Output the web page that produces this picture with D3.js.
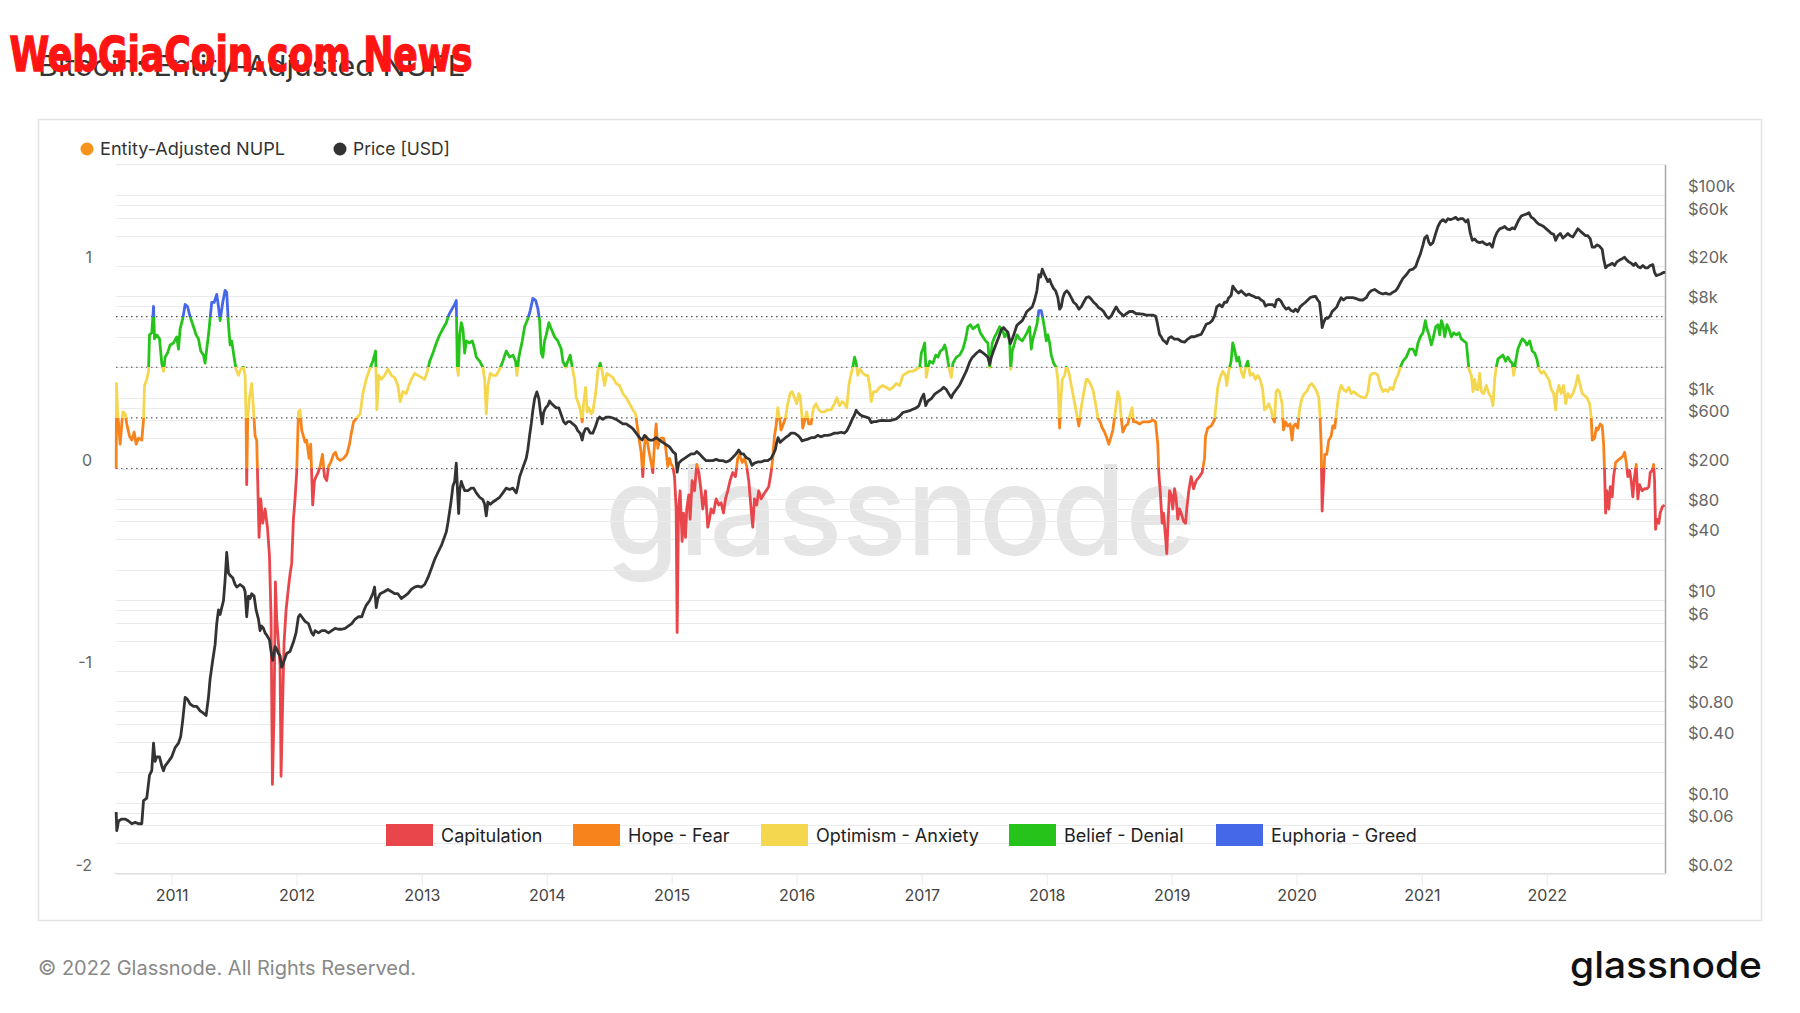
<!DOCTYPE html>
<html><head><meta charset="utf-8">
<script src="https://cdn.jsdelivr.net/npm/d3@7"></script>
<style>
html,body{margin:0;padding:0;background:#fff;}
svg{display:block;font-family:Inter,'Noto Sans',sans-serif;}
</style></head><body>
<svg id="chart" width="1800" height="1013"></svg>
<script>
// ---------- DATA ----------
const nuplYears = [2010.552,2010.555,2010.563,2010.584,2010.605,2010.624,2010.637,2010.659,2010.677,2010.696,2010.712,2010.731,2010.757,2010.771,2010.779,2010.797,2010.811,2010.819,2010.837,2010.851,2010.859,2010.877,2010.899,2010.917,2010.931,2010.944,2010.963,2010.984,2011.011,2011.037,2011.051,2011.064,2011.085,2011.104,2011.123,2011.144,2011.171,2011.192,2011.211,2011.229,2011.251,2011.264,2011.277,2011.291,2011.304,2011.317,2011.336,2011.357,2011.371,2011.384,2011.405,2011.424,2011.437,2011.451,2011.464,2011.477,2011.496,2011.512,2011.531,2011.549,2011.571,2011.584,2011.592,2011.597,2011.605,2011.619,2011.637,2011.651,2011.664,2011.677,2011.685,2011.696,2011.709,2011.725,2011.744,2011.763,2011.779,2011.792,2011.803,2011.816,2011.827,2011.837,2011.851,2011.864,2011.872,2011.885,2011.896,2011.912,2011.931,2011.944,2011.957,2011.971,2011.984,2011.997,2012.011,2012.024,2012.037,2012.051,2012.064,2012.077,2012.096,2012.109,2012.125,2012.139,2012.152,2012.168,2012.184,2012.203,2012.219,2012.237,2012.251,2012.269,2012.291,2012.307,2012.323,2012.344,2012.371,2012.397,2012.419,2012.429,2012.451,2012.477,2012.504,2012.525,
2012.552,2012.579,2012.605,2012.627,2012.637,2012.653,2012.672,2012.699,2012.725,2012.752,2012.779,2012.805,2012.824,2012.845,2012.872,2012.893,2012.912,2012.939,2012.965,2012.992,2013.019,2013.045,2013.059,2013.085,2013.112,2013.139,2013.165,2013.192,2013.213,2013.240,2013.259,2013.272,2013.280,2013.288,2013.299,2013.312,2013.325,2013.339,2013.352,2013.379,2013.400,2013.419,2013.432,2013.459,2013.485,2013.499,2013.512,2013.525,2013.544,2013.565,2013.592,2013.619,2013.645,2013.672,2013.699,2013.725,2013.747,2013.757,2013.773,2013.800,2013.819,2013.845,2013.864,2013.885,2013.907,2013.925,2013.939,2013.952,2013.965,2013.979,2013.992,2014.013,2014.032,2014.059,2014.085,2014.112,2014.125,2014.147,2014.165,2014.184,2014.200,2014.219,2014.232,2014.251,2014.264,2014.280,2014.291,2014.307,2014.320,2014.333,2014.352,2014.365,2014.387,2014.405,2014.424,2014.440,2014.459,2014.477,2014.499,2014.525,2014.552,2014.579,2014.605,
2014.632,2014.659,2014.685,2014.707,2014.725,2014.739,2014.752,2014.765,2014.779,2014.792,2014.805,2014.819,2014.832,2014.845,2014.859,2014.872,2014.885,2014.899,2014.912,2014.931,2014.947,2014.965,2014.979,2014.992,2015.005,2015.019,2015.032,2015.040,2015.051,2015.064,2015.080,2015.091,2015.107,2015.117,2015.133,2015.144,2015.160,2015.179,2015.197,2015.213,2015.232,2015.245,2015.267,2015.285,2015.299,2015.312,2015.331,2015.352,2015.373,2015.392,2015.411,2015.427,2015.445,2015.464,2015.485,2015.507,2015.525,2015.539,2015.560,2015.579,2015.597,2015.613,2015.632,2015.645,2015.659,2015.677,2015.693,2015.712,2015.731,2015.752,2015.773,2015.792,2015.805,2015.819,2015.832,2015.845,2015.859,2015.872,2015.885,2015.907,2015.925,2015.944,2015.960,2015.979,2015.997,2016.013,2016.024,2016.040,2016.045,2016.059,2016.077,2016.093,2016.112,2016.131,2016.152,2016.173,2016.192,2016.219,2016.245,2016.272,2016.299,2016.317,2016.339,2016.360,2016.379,2016.397,2016.413,2016.432,2016.445,2016.459,2016.472,2016.485,2016.504,2016.525,2016.547,2016.565,2016.579,2016.592,2016.611,2016.632,2016.659,2016.685,
2016.712,2016.739,2016.765,2016.792,2016.819,2016.845,2016.872,2016.899,2016.925,2016.952,2016.979,2016.992,2017.005,2017.019,2017.032,2017.045,2017.059,2017.085,2017.107,2017.125,2017.144,2017.165,2017.179,2017.192,2017.213,2017.232,2017.245,2017.272,2017.299,2017.325,2017.347,2017.365,2017.384,2017.405,2017.427,2017.445,2017.464,2017.485,2017.507,2017.525,2017.539,2017.560,2017.579,2017.597,2017.619,2017.640,2017.659,2017.677,2017.699,2017.707,2017.720,2017.739,2017.757,2017.779,2017.800,2017.819,2017.837,2017.859,2017.872,2017.885,2017.899,2017.917,2017.933,2017.952,2017.965,2017.979,2017.992,2018.005,2018.019,2018.032,2018.051,2018.072,2018.085,2018.099,2018.107,2018.120,2018.139,2018.152,2018.165,2018.179,2018.192,2018.205,2018.232,2018.253,2018.272,2018.291,2018.312,2018.325,2018.344,2018.365,2018.387,2018.405,2018.424,2018.440,2018.459,2018.477,2018.493,2018.512,2018.525,2018.547,2018.565,2018.579,2018.592,2018.605,2018.627,2018.645,2018.664,2018.680,2018.691,2018.712,2018.739,2018.765,
2018.792,2018.819,2018.845,2018.867,2018.885,2018.893,2018.904,2018.920,2018.931,2018.947,2018.957,2018.968,2018.979,2018.992,2019.005,2019.019,2019.032,2019.045,2019.059,2019.072,2019.091,2019.107,2019.117,2019.133,2019.152,2019.171,2019.192,2019.219,2019.240,2019.259,2019.267,2019.285,2019.312,2019.339,2019.352,2019.365,2019.384,2019.405,2019.427,2019.437,2019.453,2019.472,2019.485,2019.499,2019.517,2019.533,2019.552,2019.571,2019.587,2019.605,2019.624,2019.645,2019.667,2019.685,2019.704,2019.725,2019.739,2019.757,2019.773,2019.792,2019.805,2019.819,2019.832,2019.845,2019.859,2019.880,2019.891,2019.907,2019.925,2019.944,2019.960,2019.971,2019.987,2020.005,2020.019,2020.040,2020.059,2020.077,2020.099,2020.117,2020.139,2020.157,2020.173,2020.184,2020.192,2020.200,2020.211,2020.221,2020.237,2020.253,2020.272,2020.285,2020.301,2020.317,2020.333,2020.352,2020.371,2020.392,2020.413,2020.432,2020.451,2020.472,2020.493,2020.520,2020.547,2020.565,2020.584,2020.605,2020.627,2020.645,2020.664,2020.685,2020.707,2020.725,2020.744,2020.765,2020.787,2020.805,2020.824,2020.845,
2020.872,2020.899,2020.925,2020.947,2020.965,2020.984,2021.005,2021.024,2021.037,2021.053,2021.072,2021.085,2021.107,2021.125,2021.139,2021.152,2021.165,2021.179,2021.197,2021.213,2021.232,2021.251,2021.272,2021.293,2021.312,2021.331,2021.352,2021.373,2021.392,2021.405,2021.419,2021.432,2021.445,2021.459,2021.472,2021.491,2021.512,2021.533,2021.552,2021.565,2021.579,2021.592,2021.605,2021.624,2021.645,2021.667,2021.685,2021.704,2021.720,2021.731,2021.747,2021.765,2021.784,2021.800,2021.819,2021.837,2021.859,2021.880,2021.899,2021.917,2021.933,2021.952,2021.971,2021.992,2022.013,2022.032,2022.051,2022.067,2022.077,2022.093,2022.112,2022.131,2022.147,2022.165,2022.184,2022.205,2022.227,2022.245,2022.264,2022.280,2022.299,2022.317,2022.339,2022.352,2022.360,2022.379,2022.392,2022.405,2022.424,2022.440,2022.451,2022.459,2022.467,2022.477,2022.493,2022.504,2022.520,2022.531,2022.547,2022.565,2022.584,2022.605,2022.619,2022.632,2022.645,2022.659,2022.672,2022.685,2022.699,2022.712,2022.725,2022.739,2022.760,2022.779,2022.797,2022.813,2022.824,2022.840,2022.851,2022.859,2022.867,2022.877,2022.893,2022.904,2022.920,2022.939];

const nuplValues = [0.00,0.42,0.28,0.12,0.28,0.27,0.22,0.16,0.14,0.18,0.12,0.15,0.14,0.24,0.41,0.44,0.48,0.66,0.67,0.80,0.64,0.66,0.64,0.52,0.48,0.55,0.57,0.61,0.62,0.65,0.59,0.69,0.74,0.81,0.80,0.75,0.70,0.66,0.64,0.58,0.56,0.52,0.59,0.66,0.74,0.82,0.82,0.86,0.80,0.73,0.82,0.88,0.87,0.71,0.61,0.63,0.55,0.49,0.46,0.49,0.50,0.46,0.25,-0.08,0.25,0.35,0.42,0.30,0.16,0.14,-0.06,-0.34,-0.15,-0.27,-0.20,-0.29,-0.43,-0.74,-1.56,-1.20,-0.56,-0.74,-0.86,-0.97,-1.52,-1.15,-0.86,-0.70,-0.59,-0.52,-0.47,-0.25,-0.15,-0.02,0.28,0.29,0.19,0.16,0.13,0.14,0.05,0.12,-0.18,-0.06,-0.04,-0.02,0.01,0.07,-0.04,-0.06,0.01,0.03,0.07,0.08,0.05,0.04,0.05,0.07,0.12,0.16,0.23,0.25,0.27,0.37,
0.44,0.49,0.53,0.58,0.29,0.46,0.44,0.46,0.49,0.46,0.45,0.41,0.33,0.38,0.37,0.41,0.44,0.47,0.46,0.45,0.44,0.49,0.53,0.57,0.62,0.66,0.69,0.72,0.76,0.79,0.81,0.83,0.50,0.46,0.66,0.72,0.69,0.57,0.63,0.62,0.63,0.59,0.55,0.53,0.50,0.44,0.27,0.41,0.47,0.46,0.46,0.49,0.53,0.58,0.55,0.56,0.53,0.46,0.55,0.63,0.70,0.74,0.78,0.84,0.83,0.79,0.73,0.57,0.55,0.63,0.66,0.72,0.69,0.65,0.63,0.59,0.53,0.50,0.53,0.56,0.50,0.44,0.35,0.32,0.29,0.23,0.32,0.40,0.28,0.30,0.27,0.28,0.37,0.48,0.52,0.48,0.41,0.47,0.46,0.45,0.42,0.41,0.37,
0.35,0.32,0.29,0.27,0.19,0.13,0.08,-0.04,0.12,0.16,0.12,0.07,0.03,-0.02,0.12,0.22,0.10,0.14,0.15,0.15,0.11,0.01,0.05,0.02,0.01,-0.04,-0.20,-0.81,-0.20,-0.11,-0.36,-0.22,-0.34,-0.20,-0.13,-0.25,-0.06,-0.11,0.02,-0.02,-0.11,-0.20,-0.11,-0.29,-0.25,-0.20,-0.22,-0.15,-0.18,-0.17,-0.22,-0.15,-0.11,-0.06,-0.02,-0.04,0.05,0.07,0.03,0.05,0.01,-0.06,-0.20,-0.29,-0.15,-0.18,-0.11,-0.15,-0.13,-0.11,-0.09,-0.02,0.05,0.16,0.21,0.30,0.25,0.19,0.21,0.25,0.32,0.37,0.38,0.35,0.32,0.37,0.36,0.25,0.20,0.23,0.28,0.22,0.22,0.30,0.32,0.29,0.28,0.28,0.29,0.29,0.32,0.35,0.31,0.33,0.32,0.30,0.41,0.47,0.50,0.55,0.52,0.46,0.49,0.47,0.46,0.46,0.41,0.33,0.38,0.38,0.40,0.41,
0.40,0.39,0.40,0.42,0.41,0.46,0.47,0.48,0.48,0.49,0.50,0.57,0.59,0.62,0.45,0.50,0.53,0.52,0.56,0.55,0.58,0.59,0.61,0.58,0.50,0.45,0.52,0.55,0.56,0.59,0.64,0.70,0.71,0.69,0.70,0.71,0.67,0.65,0.63,0.62,0.50,0.62,0.65,0.67,0.70,0.69,0.65,0.67,0.63,0.49,0.58,0.62,0.66,0.64,0.63,0.65,0.67,0.70,0.59,0.64,0.67,0.71,0.78,0.78,0.74,0.69,0.63,0.66,0.62,0.56,0.52,0.50,0.44,0.20,0.32,0.44,0.46,0.50,0.49,0.46,0.41,0.37,0.28,0.21,0.30,0.37,0.44,0.44,0.42,0.39,0.32,0.25,0.23,0.20,0.18,0.15,0.12,0.16,0.19,0.29,0.38,0.35,0.25,0.18,0.21,0.22,0.27,0.30,0.23,0.23,0.22,0.23,
0.23,0.23,0.24,0.23,0.12,-0.02,-0.11,-0.27,-0.22,-0.34,-0.42,-0.25,-0.11,-0.13,-0.20,-0.10,-0.15,-0.25,-0.20,-0.22,-0.26,-0.27,-0.20,-0.11,-0.04,-0.10,-0.06,-0.04,-0.02,0.05,0.16,0.20,0.21,0.24,0.32,0.40,0.45,0.48,0.46,0.41,0.48,0.53,0.62,0.59,0.53,0.55,0.48,0.45,0.50,0.53,0.46,0.47,0.44,0.46,0.44,0.39,0.29,0.30,0.32,0.29,0.25,0.23,0.38,0.39,0.38,0.32,0.19,0.23,0.21,0.22,0.14,0.21,0.22,0.20,0.29,0.35,0.37,0.38,0.41,0.42,0.40,0.38,0.35,0.25,0.12,-0.21,-0.06,0.07,0.07,0.14,0.16,0.21,0.20,0.29,0.37,0.41,0.39,0.38,0.40,0.37,0.38,0.37,0.36,0.35,0.35,0.38,0.46,0.47,0.47,0.46,0.41,0.38,0.39,0.38,0.40,0.39,0.44,0.46,0.50,0.53,
0.55,0.59,0.59,0.56,0.62,0.65,0.67,0.73,0.69,0.66,0.61,0.64,0.70,0.71,0.66,0.73,0.71,0.65,0.71,0.69,0.65,0.67,0.66,0.67,0.64,0.63,0.62,0.49,0.46,0.38,0.44,0.39,0.39,0.47,0.38,0.37,0.41,0.37,0.35,0.31,0.44,0.50,0.54,0.55,0.56,0.53,0.55,0.53,0.52,0.46,0.53,0.59,0.62,0.64,0.63,0.61,0.63,0.58,0.57,0.54,0.49,0.47,0.48,0.46,0.44,0.39,0.37,0.29,0.37,0.41,0.37,0.41,0.32,0.37,0.35,0.37,0.41,0.46,0.41,0.37,0.36,0.35,0.32,0.25,0.14,0.15,0.20,0.19,0.22,0.21,0.12,-0.02,-0.22,-0.11,-0.20,-0.09,-0.14,-0.04,0.03,0.04,0.05,0.06,0.08,0.03,-0.04,-0.01,-0.06,-0.14,-0.04,0.02,-0.15,-0.08,-0.11,-0.10,-0.10,-0.09,-0.02,-0.01,0.02,-0.06,-0.30,-0.25,-0.27,-0.22,-0.19,-0.18];

const priceYears = [2010.552,2010.557,2010.571,2010.597,2010.624,2010.651,2010.677,2010.704,2010.731,2010.757,2010.771,2010.797,2010.819,2010.837,2010.851,2010.864,2010.877,2010.899,2010.917,2010.931,2010.944,2010.971,2010.997,2011.024,2011.051,2011.069,2011.085,2011.104,2011.123,2011.144,2011.171,2011.197,2011.224,2011.251,2011.272,2011.291,2011.304,2011.325,2011.344,2011.357,2011.371,2011.384,2011.397,2011.411,2011.424,2011.437,2011.451,2011.464,2011.485,2011.504,2011.517,2011.544,2011.571,2011.584,2011.597,2011.611,2011.624,2011.637,2011.656,2011.672,2011.691,2011.704,2011.717,2011.731,2011.744,2011.757,2011.779,2011.792,2011.805,2011.824,2011.837,2011.851,2011.864,2011.877,2011.891,2011.904,2011.917,2011.944,2011.971,2011.992,2012.011,2012.024,2012.037,2012.064,2012.091,2012.117,2012.131,2012.144,2012.171,2012.197,2012.224,2012.251,2012.277,2012.304,2012.331,2012.357,2012.384,2012.411,2012.437,2012.464,2012.491,2012.517,2012.536,
2012.552,2012.579,2012.605,2012.619,2012.632,2012.645,2012.664,2012.699,2012.725,2012.752,2012.779,2012.805,2012.832,2012.859,2012.885,2012.912,2012.939,2012.965,2012.992,2013.019,2013.045,2013.072,2013.099,2013.125,2013.152,2013.179,2013.192,2013.205,2013.219,2013.232,2013.245,2013.259,2013.272,2013.280,2013.291,2013.299,2013.312,2013.325,2013.339,2013.365,2013.392,2013.411,2013.432,2013.459,2013.485,2013.499,2013.512,2013.525,2013.544,2013.565,2013.592,2013.619,2013.645,2013.672,2013.699,2013.725,2013.752,2013.765,2013.779,2013.805,2013.832,2013.845,2013.859,2013.872,2013.885,2013.899,2013.917,2013.933,2013.944,2013.960,2013.971,2013.987,2014.005,2014.019,2014.032,2014.051,2014.072,2014.093,2014.112,2014.131,2014.147,2014.165,2014.184,2014.205,2014.227,2014.245,2014.264,2014.280,2014.291,2014.307,2014.325,2014.344,2014.365,2014.387,2014.405,2014.419,2014.445,2014.472,2014.499,2014.525,2014.552,2014.579,2014.605,
2014.632,2014.659,2014.685,2014.712,2014.739,2014.760,2014.779,2014.797,2014.819,2014.845,2014.872,2014.899,2014.925,2014.952,2014.979,2015.005,2015.027,2015.040,2015.053,2015.072,2015.099,2015.125,2015.152,2015.179,2015.197,2015.219,2015.245,2015.272,2015.299,2015.325,2015.352,2015.379,2015.405,2015.432,2015.459,2015.485,2015.512,2015.533,2015.552,2015.571,2015.592,2015.619,2015.640,2015.659,2015.685,2015.712,2015.739,2015.765,2015.792,2015.811,2015.827,2015.837,2015.848,2015.864,2015.885,2015.907,2015.933,2015.952,2015.979,2016.005,2016.024,2016.040,2016.059,2016.085,2016.112,2016.139,2016.165,2016.192,2016.219,2016.245,2016.272,2016.299,2016.325,2016.352,2016.379,2016.397,2016.419,2016.440,2016.459,2016.472,2016.485,2016.504,2016.525,2016.552,2016.573,2016.592,2016.611,2016.632,2016.659,2016.685,
2016.712,2016.739,2016.765,2016.792,2016.819,2016.845,2016.872,2016.899,2016.925,2016.952,2016.973,2016.992,2017.011,2017.027,2017.045,2017.072,2017.099,2017.125,2017.152,2017.171,2017.192,2017.213,2017.232,2017.245,2017.272,2017.299,2017.325,2017.352,2017.379,2017.400,2017.419,2017.437,2017.459,2017.485,2017.507,2017.525,2017.539,2017.552,2017.571,2017.592,2017.613,2017.632,2017.651,2017.667,2017.685,2017.704,2017.720,2017.739,2017.757,2017.779,2017.800,2017.819,2017.837,2017.859,2017.880,2017.899,2017.917,2017.933,2017.947,2017.960,2017.971,2017.987,2018.005,2018.019,2018.032,2018.051,2018.067,2018.085,2018.099,2018.112,2018.125,2018.139,2018.157,2018.173,2018.192,2018.211,2018.232,2018.253,2018.272,2018.291,2018.312,2018.333,2018.352,2018.371,2018.392,2018.413,2018.432,2018.451,2018.472,2018.493,2018.512,2018.531,2018.552,2018.573,2018.592,2018.611,2018.632,2018.659,2018.685,2018.712,2018.739,2018.765,
2018.792,2018.819,2018.845,2018.867,2018.877,2018.888,2018.899,2018.912,2018.925,2018.939,2018.957,2018.973,2018.992,2019.019,2019.045,2019.072,2019.099,2019.125,2019.152,2019.179,2019.205,2019.232,2019.251,2019.272,2019.299,2019.320,2019.339,2019.357,2019.379,2019.400,2019.419,2019.437,2019.453,2019.472,2019.485,2019.499,2019.512,2019.533,2019.552,2019.571,2019.592,2019.613,2019.632,2019.651,2019.672,2019.693,2019.712,2019.731,2019.747,2019.765,2019.784,2019.805,2019.821,2019.837,2019.853,2019.872,2019.891,2019.912,2019.933,2019.952,2019.971,2019.987,2020.005,2020.024,2020.045,2020.067,2020.085,2020.104,2020.125,2020.147,2020.165,2020.179,2020.192,2020.200,2020.211,2020.227,2020.245,2020.264,2020.280,2020.299,2020.317,2020.333,2020.352,2020.371,2020.392,2020.419,2020.445,2020.472,2020.499,2020.525,2020.552,2020.573,2020.592,2020.619,2020.645,2020.664,2020.685,2020.707,2020.725,2020.744,2020.765,2020.787,2020.805,2020.824,2020.845,
2020.872,2020.899,2020.925,2020.947,2020.965,2020.984,2021.005,2021.019,2021.037,2021.053,2021.064,2021.085,2021.107,2021.125,2021.144,2021.165,2021.187,2021.205,2021.224,2021.245,2021.267,2021.285,2021.304,2021.325,2021.347,2021.365,2021.384,2021.400,2021.419,2021.437,2021.459,2021.480,2021.499,2021.517,2021.539,2021.560,2021.579,2021.597,2021.619,2021.640,2021.659,2021.677,2021.699,2021.720,2021.739,2021.752,2021.773,2021.792,2021.811,2021.832,2021.853,2021.872,2021.891,2021.912,2021.933,2021.952,2021.971,2021.992,2022.013,2022.032,2022.051,2022.067,2022.085,2022.104,2022.125,2022.147,2022.165,2022.184,2022.205,2022.227,2022.245,2022.264,2022.285,2022.307,2022.325,2022.344,2022.360,2022.379,2022.397,2022.419,2022.440,2022.451,2022.467,2022.485,2022.504,2022.520,2022.539,2022.557,2022.579,2022.600,2022.619,2022.637,2022.653,2022.672,2022.691,2022.707,2022.725,2022.744,2022.765,2022.787,2022.805,2022.824,2022.845,2022.859,2022.872,2022.893,2022.912,2022.931,2022.944];

const priceValues = [0.081,0.053,0.066,0.069,0.069,0.066,0.062,0.064,0.062,0.062,0.105,0.111,0.187,0.207,0.388,0.256,0.284,0.284,0.231,0.207,0.231,0.256,0.284,0.350,0.388,0.454,0.655,1.10,1.05,0.944,0.895,0.895,0.807,0.766,0.726,1.10,1.67,2.55,3.66,5.87,8.03,7.22,8.45,9.88,15.8,29.6,18.5,17.6,16.7,14.3,13.5,14.3,13.5,12.2,6.87,11.0,10.4,11.6,11.0,8.03,6.52,5.01,5.57,5.28,4.76,4.52,4.07,3.13,2.55,3.48,3.30,2.98,2.82,2.18,2.41,2.68,2.98,3.13,3.86,4.76,6.87,7.22,6.87,6.18,5.87,4.76,4.52,5.01,4.76,5.01,5.01,4.76,5.01,5.28,5.17,5.17,5.28,5.57,5.87,6.52,6.87,6.87,8.03,
8.91,9.88,11.6,13.5,8.45,10.4,11.6,12.2,12.8,12.2,11.6,11.6,10.4,11.0,11.6,12.8,13.5,13.8,13.5,14.3,16.7,20.5,25.3,29.6,34.6,42.6,47.3,58.3,75.7,98.3,134,149,226,134,71.9,121,149,134,121,121,128,128,115,104,98.3,88.5,68.2,93.3,88.5,93.3,98.3,104,115,128,124,128,115,134,166,204,252,310,425,551,753,978,1143,978,753,551,715,794,836,929,881,836,794,794,679,581,551,581,581,551,523,471,447,382,447,496,496,447,447,523,611,644,611,644,644,631,611,581,551,
551,523,496,447,403,382,425,403,382,382,403,382,362,344,327,294,279,184,226,239,252,265,279,279,294,279,257,239,239,239,246,239,239,232,239,257,279,304,279,279,257,246,215,226,232,232,239,239,252,279,310,362,403,362,382,403,425,447,447,425,403,374,382,390,403,403,425,411,425,425,433,447,447,456,447,471,534,611,679,753,715,679,657,644,631,568,581,581,593,598,
593,593,605,618,657,715,730,745,769,794,836,978,1086,836,929,978,1086,1143,1205,1270,1205,1086,998,1086,1205,1337,1565,1829,2256,2503,2638,2779,2928,2779,2638,2503,2140,2503,2928,3423,4003,4680,4931,4680,4443,3423,3799,4443,5197,5478,5773,6406,7109,7492,7896,9234,11380,16400,15580,18590,17270,15580,14020,14780,13310,11990,11380,9730,7492,7896,9730,10800,11380,10800,9730,8770,8320,7492,7896,8770,9730,9940,9420,8770,8320,7730,7492,7109,6406,6080,6406,7109,7896,7109,6750,6406,6750,7109,7109,6750,6750,6680,
6540,6540,6540,6406,5773,4931,4220,4003,3720,3610,3423,3880,4003,3799,3799,3610,3535,3799,4003,4003,4130,4220,4680,5310,5478,5773,6406,7896,8320,7896,8770,8770,9730,10250,12630,11990,11380,10800,11380,10800,10250,10570,10250,10040,9730,9730,9234,8950,8060,8320,8320,8320,7896,9234,9420,8950,8060,7492,7730,7260,7109,7492,7109,7896,8320,8770,9234,9730,9940,10040,9234,8770,6406,4931,5478,6080,6080,6406,7109,7492,7896,8770,9730,9234,9730,9730,9730,9530,9234,9234,9730,10800,11380,11740,11140,10800,10570,10800,10570,10570,11030,11380,12240,13590,15090,
16400,18200,18590,19780,22900,26240,32350,37840,39830,34060,32350,34060,41970,49090,54490,57380,54490,58640,57380,58640,60510,57380,58640,58640,54490,57380,41970,35890,37010,34750,34060,34750,33340,32350,33340,30680,37840,42840,46560,47540,49090,46560,45600,47540,46560,50700,57380,62400,63730,65040,67140,60510,58640,54490,51760,50700,49090,46560,44250,41970,41130,35890,39830,41970,37840,39830,41970,39830,38620,42840,46560,44250,41970,39830,39830,37010,30680,30680,32350,31330,29130,23640,19180,20200,20640,21290,20200,21970,22900,23640,24380,22900,21970,21290,20200,21290,19780,19180,20200,19180,19180,20200,20640,17270,16060,16400,16750,17270,17270];

const yearTicks = [2011,2012,2013,2014,2015,2016,2017,2018,2019,2020,2021,2022];
const nuplTicks = [1,0,-1,-2];
const zoneThresholds = [0,0.25,0.5,0.75];
const zoneNames = ["Capitulation","Hope - Fear","Optimism - Anxiety","Belief - Denial","Euphoria - Greed"];
const zoneColors = ["#e8464a","#f7831c","#f4d74e","#26c41b","#4568e8"];
const priceGrid = [0.02,0.04,0.06,0.08,0.1,0.2,0.4,0.6,0.8,1,2,4,6,8,10,20,40,60,80,100,200,400,600,800,1000,2000,4000,6000,8000,10000,20000,40000,60000,80000,100000];
const priceLabels = [100000,60000,20000,8000,4000,1000,600,200,80,40,10,6,2,0.8,0.4,0.1,0.06,0.02];
const seriesNames = ["Entity-Adjusted NUPL","Price [USD]"];
const seriesColors = ["#f7931a","#333333"];

// ---------- LAYOUT ----------
const L = 116, R = 1665, T = 164.75, B = 873.5;
const legendX = [386, 573, 761, 1009, 1216];
const svg = d3.select("#chart");

function toDate(yr){
  const y = Math.floor(yr);
  const s = Date.UTC(y,0,1), e = Date.UTC(y+1,0,1);
  return new Date(s + (yr - y) * (e - s));
}

const x = d3.scaleUtc().domain([new Date(Date.UTC(2010,6,21)), new Date(Date.UTC(2022,11,11))]).range([L, R]);
const yN = d3.scaleLinear().domain([-2, 1.5]).range([B, T]);
const yP = d3.scaleLog().domain([0.02, 200000]).range([B, T]);

// outer frame
svg.append("rect").attr("x",38.5).attr("y",119.5).attr("width",1723).attr("height",801)
  .attr("fill","none").attr("stroke","#e4e4e4").attr("stroke-width",1.5);

// center watermark
svg.append("text").attr("x",605).attr("y",555).attr("font-size",125).attr("font-weight",500)
  .attr("fill","#e5e5e5").attr("textLength",591).attr("lengthAdjust","spacingAndGlyphs")
  .text("glassnode");

// grid lines
svg.append("g").selectAll("line").data(priceGrid).join("line")
  .attr("x1",L).attr("x2",R).attr("y1",d=>Math.round(yP(d))+0.5).attr("y2",d=>Math.round(yP(d))+0.5)
  .attr("stroke","#ebebeb").attr("stroke-width",1);
svg.append("line").attr("x1",L).attr("x2",R).attr("y1",T).attr("y2",T).attr("stroke","#e6e6e6").attr("stroke-width",1.2);
svg.append("line").attr("x1",L-2).attr("x2",R).attr("y1",B).attr("y2",B).attr("stroke","#e0e0e0").attr("stroke-width",1.2);

// year ticks
svg.append("g").selectAll("line").data(yearTicks).join("line")
  .attr("x1",d=>x(toDate(d))).attr("x2",d=>x(toDate(d))).attr("y1",B).attr("y2",B+12)
  .attr("stroke","#ececec").attr("stroke-width",1);

// zone threshold dotted lines
svg.append("g").selectAll("line").data(zoneThresholds).join("line")
  .attr("x1",L).attr("x2",R).attr("y1",d=>yN(d)).attr("y2",d=>yN(d))
  .attr("stroke","#555").attr("stroke-width",1.2).attr("stroke-dasharray","1.5 3.5");

// right axis line
svg.append("line").attr("x1",R+0.5).attr("x2",R+0.5).attr("y1",T).attr("y2",B)
  .attr("stroke","#a8a8a8").attr("stroke-width",1.5);

// gradient for NUPL zones
const defs = svg.append("defs");
const grad = defs.append("linearGradient").attr("id","zoneGrad")
  .attr("gradientUnits","userSpaceOnUse").attr("x1",0).attr("x2",0).attr("y1",yN(-2)).attr("y2",yN(1.5));
const bounds = [-2, ...zoneThresholds, 1.5];
const off = v => (v - (-2)) / 3.5;
zoneColors.forEach((c,i)=>{
  grad.append("stop").attr("offset",off(bounds[i])).attr("stop-color",c);
  grad.append("stop").attr("offset",off(bounds[i+1])).attr("stop-color",c);
});

// NUPL line
const nuplData = nuplYears.map((t,i)=>({d:toDate(t), v:nuplValues[i]}));
svg.append("path").datum(nuplData)
  .attr("d", d3.line().x(d=>x(d.d)).y(d=>yN(d.v)))
  .attr("fill","none").attr("stroke","url(#zoneGrad)").attr("stroke-width",2.8)
  .attr("stroke-linejoin","round");

// Price line
const priceData = priceYears.map((t,i)=>({d:toDate(t), v:priceValues[i]}));
svg.append("path").datum(priceData)
  .attr("d", d3.line().x(d=>x(d.d)).y(d=>yP(d.v)))
  .attr("fill","none").attr("stroke",seriesColors[1]).attr("stroke-width",2.8)
  .attr("stroke-linejoin","round");

// left axis labels
svg.append("g").selectAll("text").data(nuplTicks).join("text")
  .attr("x",92).attr("y",d=>yN(d)-3).attr("text-anchor","end")
  .attr("font-size",16).attr("fill","#666").text(d=>d===0?"0":(d<0?"-"+Math.abs(d):d));

// right axis labels
const fmtPrice = v => v>=1000 ? "$"+(v/1000)+"k" : (v>=1 ? "$"+v : "$"+v.toFixed(2));
svg.append("g").selectAll("text").data(priceLabels).join("text")
  .attr("x",1688).attr("y",d=>yP(d)-3).attr("text-anchor","start")
  .attr("font-size",16.5).attr("fill","#666").text(fmtPrice);

// x axis labels
svg.append("g").selectAll("text").data(yearTicks).join("text")
  .attr("x",d=>x(toDate(d))).attr("y",901).attr("text-anchor","middle")
  .attr("font-size",16).attr("fill","#444").text(d=>d);

// title
svg.append("text").attr("x",38).attr("y",76).attr("font-size",28.5).attr("fill","#333")
  .attr("textLength",427).attr("lengthAdjust","spacingAndGlyphs")
  .text("Bitcoin: Entity-Adjusted NUPL");

// red watermark
svg.append("text").attr("x",9.5).attr("y",71).attr("font-size",48).attr("font-weight",700)
  .attr("font-family","'Liberation Sans Narrow','DejaVu Sans Condensed','Roboto',sans-serif")
  .attr("fill","#ff1414").attr("stroke","#ff1414").attr("stroke-width",1.4)
  .attr("textLength",463).attr("lengthAdjust","spacingAndGlyphs")
  .text("WebGiaCoin.com News");

// top legend
const topLeg = [{cx:87, tx:100, w:185},{cx:340, tx:353, w:97}];
topLeg.forEach((p,i)=>{
  svg.append("circle").attr("cx",p.cx).attr("cy",149).attr("r",6.5).attr("fill",seriesColors[i]);
  svg.append("text").attr("x",p.tx).attr("y",155).attr("font-size",17.5).attr("fill","#333")
    .attr("textLength",p.w).attr("lengthAdjust","spacingAndGlyphs").text(seriesNames[i]);
});

// bottom legend
zoneNames.forEach((n,i)=>{
  const lx = legendX[i];
  svg.append("rect").attr("x",lx).attr("y",824).attr("width",47).attr("height",22).attr("fill",zoneColors[i]);
  svg.append("text").attr("x",lx+55).attr("y",842).attr("font-size",18).attr("fill","#222").text(n);
});

// footer
svg.append("text").attr("x",38).attr("y",975).attr("font-size",19.5).attr("fill","#888")
  .attr("textLength",378).attr("lengthAdjust","spacingAndGlyphs")
  .text("© 2022 Glassnode. All Rights Reserved.");
svg.append("text").attr("x",1570).attr("y",978).attr("font-size",37).attr("font-weight",500)
  .attr("fill","#111").attr("textLength",192).attr("lengthAdjust","spacingAndGlyphs").text("glassnode");
</script>
</body></html>
